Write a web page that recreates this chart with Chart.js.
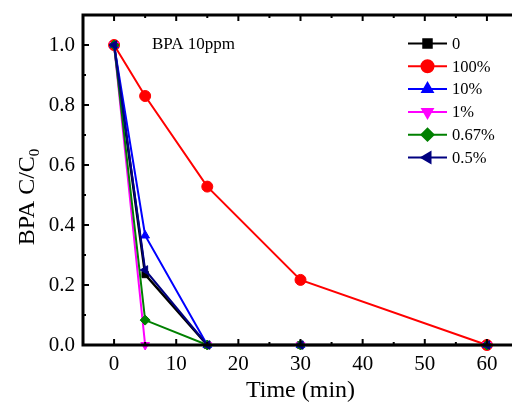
<!DOCTYPE html>
<html>
<head>
<meta charset="utf-8">
<script src="https://cdn.jsdelivr.net/npm/chart.js@4/dist/chart.umd.min.js"></script>
<style>
  html, body { margin: 0; padding: 0; background: #fff; overflow: hidden; }
  #wrap { width: 530px; height: 405px; }
</style>
</head>
<body>
<div id="wrap"><canvas id="c" width="530" height="405"></canvas></div>
<script>
// Données BPA 10ppm
const times = [0, 5, 15, 30, 60];            // min
const labels = ['0', '100%', '10%', '1%', '0.67%', '0.5%'];
const s0    = [1.0, 0.235, 0, 0, 0];
const s100  = [1.0, 0.83, 0.528, 0.217, 0];
const s10   = [1.0, 0.365, 0, 0, 0];
const s1    = [1.0, 0, 0, 0, 0];
const s067  = [1.0, 0.083, 0, 0, 0];
const s05   = [1.0, 0.25, 0, 0, 0];

const series = [s0, s100, s10, s1, s067, s05];
const colors = ['#000000', '#ff0000', '#0000ff', '#ff00ff', '#008000', '#000080'];
const styles = ['rect', 'circle', 'triangle', 'triangle', 'rectRot', 'triangle'];
const rots   = [0, 0, 0, 180, 0, -90];
const radii  = [4.5, 5.5, 5, 5, 5, 5];

const FONT = '"Liberation Serif", "DejaVu Serif", serif';

const datasets = series.map((s, i) => ({
  label: labels[i],
  data: s.map((v, j) => ({ x: times[j], y: v })),
  borderColor: colors[i],
  backgroundColor: colors[i],
  borderWidth: i === 0 ? 2.5 : 2,
  pointStyle: styles[i],
  pointRotation: rots[i],
  pointRadius: radii[i],
  pointBorderWidth: 1,
  tension: 0,
  clip: false,
  order: series.length - 1 - i
}));

// axes, ticks vers l'intérieur, légende et textes
const decor = {
  id: 'decor',
  afterDraw(chart) {
    const { ctx, chartArea: a, scales: { x, y } } = chart;
    ctx.save();
    ctx.strokeStyle = '#000';
    ctx.lineWidth = 2;
    // ticks
    for (let v = -5; v <= 65; v += 5) {
      const px = x.getPixelForValue(v);
      const len = v % 10 === 0 ? 6 : 3;
      ctx.beginPath();
      ctx.moveTo(px, a.bottom); ctx.lineTo(px, a.bottom - len);
      ctx.moveTo(px, a.top); ctx.lineTo(px, a.top + len);
      ctx.stroke();
    }
    for (let k = 0; k <= 11; k++) {
      const py = y.getPixelForValue(k / 10);
      const len = k % 2 === 0 ? 6 : 3;
      ctx.beginPath();
      ctx.moveTo(a.left, py); ctx.lineTo(a.left + len, py);
      ctx.stroke();
    }
    // cadre
    ctx.lineWidth = 3;
    ctx.beginPath();
    ctx.moveTo(a.left, a.top); ctx.lineTo(a.right, a.top);
    ctx.moveTo(a.left, a.top - 1.5); ctx.lineTo(a.left, a.bottom + 1.5);
    ctx.moveTo(a.left, a.bottom); ctx.lineTo(a.right, a.bottom);
    ctx.stroke();

    // texte dans le graphe
    ctx.fillStyle = '#000';
    ctx.font = '17px ' + FONT;
    ctx.textBaseline = 'middle';
    ctx.textAlign = 'left';
    ctx.fillText('BPA 10ppm', 152, 45);

    // légende
    ctx.font = '16.5px ' + FONT;
    chart.data.datasets.forEach((d, i) => {
      const ly = 43.5 + i * 22.8;
      ctx.strokeStyle = d.borderColor;
      ctx.lineWidth = 2;
      ctx.beginPath();
      ctx.moveTo(408, ly); ctx.lineTo(447, ly);
      ctx.stroke();
      ctx.fillStyle = d.backgroundColor;
      Chart.helpers.drawPoint(ctx, {
        pointStyle: d.pointStyle, radius: 6, rotation: d.pointRotation, borderWidth: 1
      }, 427.5, ly);
      ctx.fillStyle = '#000';
      ctx.fillText(d.label, 452, ly + 1);
    });

    // titre axe y avec indice
    ctx.translate(28, 197);
    ctx.rotate(-Math.PI / 2);
    ctx.font = '24px ' + FONT;
    const main = 'BPA C/C';
    const w1 = ctx.measureText(main).width;
    ctx.font = '15px ' + FONT;
    const w2 = ctx.measureText('0').width;
    const x0 = -(w1 + w2) / 2;
    ctx.font = '24px ' + FONT;
    ctx.fillText(main, x0, 0);
    ctx.font = '15px ' + FONT;
    ctx.fillText('0', x0 + w1, 7);
    ctx.restore();
  }
};

new Chart(document.getElementById('c'), {
  type: 'line',
  data: { datasets },
  options: {
    responsive: false,
    animation: false,
    layout: { padding: { top: 15, right: 12, left: 0, bottom: 0 } },
    plugins: { legend: { display: false }, tooltip: { enabled: false } },
    scales: {
      x: {
        type: 'linear', min: -5, max: 65,
        grid: { display: false, drawTicks: false },
        border: { display: false },
        ticks: {
          stepSize: 5, padding: 7, color: '#000', maxRotation: 0, autoSkip: false,
          font: { family: FONT, size: 21 },
          callback: v => (v % 10 === 0 && v >= 0 && v <= 60) ? String(v) : ''
        },
        title: { display: true, text: 'Time (min)', color: '#000', padding: { top: 0, bottom: 0 },
                 font: { family: FONT, size: 24 } },
        afterFit: s => { s.height = 60; s.paddingLeft = 0; s.paddingRight = 0; }
      },
      y: {
        min: 0, max: 1.1,
        grid: { display: false, drawTicks: false },
        border: { display: false },
        ticks: {
          stepSize: 0.1, padding: 8, color: '#000', autoSkip: false,
          font: { family: FONT, size: 21 },
          callback: v => {
            const k = Math.round(v * 10);
            return (k % 2 === 0 && k <= 10) ? (k / 10).toFixed(1) : '';
          }
        },
        afterFit: s => { s.width = 83; s.paddingTop = 0; s.paddingBottom = 0; }
      }
    }
  },
  plugins: [decor]
});
</script>
</body>
</html>
